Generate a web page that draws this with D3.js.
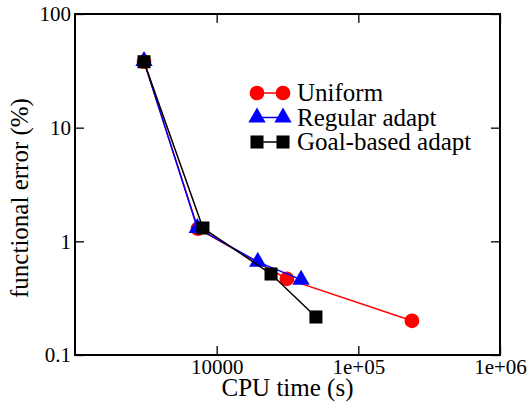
<!DOCTYPE html>
<html>
<head>
<meta charset="utf-8">
<script src="https://cdn.jsdelivr.net/npm/d3@7"></script>
<style>
  body { margin: 0; background: #fff; }
  svg text { font-family: "Liberation Serif", "Times New Roman", Times, "DejaVu Serif", serif !important; fill: #000; }
</style>
</head>
<body>
<div class="chart"></div>
<script>
var width = 530, height = 405;
var padLeft = 75, padRight = 500, padTop = 14, padBottom = 355;

// data
var seriesNames = ["Uniform", "Regular adapt", "Goal-based adapt"];
var uniformTime = [3070, 7380, 31300, 239000];
var uniformError = [38, 1.29, 0.467, 0.2];
var regularTime = [3070, 7300, 19500, 39400];
var regularError = [38.5, 1.31, 0.66, 0.46];
var goalTime = [3070, 8000, 24200, 50200];
var goalError = [38, 1.31, 0.516, 0.216];
var xTicks = [10000, 100000, 1000000];
var xTickLabels = ["10000", "1e+05", "1e+06"];
var yTicks = [0.1, 1, 10, 100];
var yTickLabels = ["0.1", "1", "10", "100"];

var colors = ["#ff0000", "#0000ff", "#000000"];
var symbols = [d3.symbolCircle, d3.symbolTriangle, d3.symbolSquare];
var symSizes = [170, 130, 170];
var serif = "'Liberation Serif', 'Times New Roman', serif";

var series = [
  { name: seriesNames[0], time: uniformTime, err: uniformError },
  { name: seriesNames[1], time: regularTime, err: regularError },
  { name: seriesNames[2], time: goalTime, err: goalError }
];

var svg = d3.select(".chart").append("svg")
  .attr("width", width)
  .attr("height", height);

var xScale = d3.scaleLog().domain([1000, 1000000]).range([padLeft, padRight]);
var yScale = d3.scaleLog().domain([0.1, 100]).range([padBottom, padTop]);

// minor tick values
var xMinor = [], yMinor = [];
[1000, 10000, 100000].forEach(function(d) {
  for (var k = 2; k < 10; k++) xMinor.push(d * k);
});
[0.1, 1, 10].forEach(function(d) {
  for (var k = 2; k < 10; k++) yMinor.push(d * k);
});

var fmt = function(list, labels) {
  return function(d) { var i = list.indexOf(d); return i < 0 ? "" : labels[i]; };
};

// bottom axis
var gx = svg.append("g").attr("transform", "translate(0," + padBottom + ")");
gx.call(d3.axisTop(xScale).tickValues(xMinor).tickSize(5).tickFormat(""));
gx.call(d3.axisTop(xScale).tickValues(xTicks).tickSize(9).tickFormat(""));
var gx2 = svg.append("g").attr("transform", "translate(0," + padBottom + ")")
  .call(d3.axisBottom(xScale).tickValues(xTicks).tickSize(0).tickPadding(4)
    .tickFormat(fmt(xTicks, xTickLabels)));
gx2.attr("font-family", serif).attr("font-size", 21);

// top axis
var gxt = svg.append("g").attr("transform", "translate(0," + padTop + ")");
gxt.call(d3.axisBottom(xScale).tickValues(xMinor).tickSize(5).tickFormat(""));
gxt.call(d3.axisBottom(xScale).tickValues(xTicks).tickSize(9).tickFormat(""));

// left axis
var gy = svg.append("g").attr("transform", "translate(" + padLeft + ",0)");
gy.call(d3.axisRight(yScale).tickValues(yMinor).tickSize(5).tickFormat(""));
gy.call(d3.axisRight(yScale).tickValues(yTicks).tickSize(9).tickFormat(""));
var gy2 = svg.append("g").attr("transform", "translate(" + padLeft + ",0)")
  .call(d3.axisLeft(yScale).tickValues(yTicks).tickSize(0).tickPadding(4)
    .tickFormat(fmt(yTicks, yTickLabels)));
gy2.attr("font-family", serif).attr("font-size", 21);

// right axis
var gyr = svg.append("g").attr("transform", "translate(" + padRight + ",0)");
gyr.call(d3.axisLeft(yScale).tickValues(yMinor).tickSize(5).tickFormat(""));
gyr.call(d3.axisLeft(yScale).tickValues(yTicks).tickSize(9).tickFormat(""));

svg.selectAll(".domain").remove();
svg.selectAll(".tick line").attr("stroke", "#000").attr("stroke-width", 1.3);

// frame
svg.append("rect")
  .attr("x", padLeft).attr("y", padTop)
  .attr("width", padRight - padLeft).attr("height", padBottom - padTop)
  .attr("fill", "none").attr("stroke", "#000").attr("stroke-width", 2);

// lines and markers
var line = d3.line()
  .x(function(d) { return xScale(d[0]); })
  .y(function(d) { return yScale(d[1]); });

series.forEach(function(s, i) {
  var pts = s.time.map(function(t, j) { return [t, s.err[j]]; });
  svg.append("path")
    .datum(pts)
    .attr("d", line)
    .attr("fill", "none")
    .attr("stroke", colors[i])
    .attr("stroke-width", 1.5);
  svg.selectAll(".mark" + i)
    .data(pts)
    .enter().append("path")
    .attr("class", "mark" + i)
    .attr("d", d3.symbol().type(symbols[i]).size(symSizes[i]))
    .attr("transform", function(d) {
      return "translate(" + xScale(d[0]) + "," + yScale(d[1]) + ")";
    })
    .attr("fill", colors[i]);
});

// legend
var legX1 = 257, legX2 = 283, legY = 93, legStep = 24.5;
series.forEach(function(s, i) {
  var y = legY + i * legStep;
  svg.append("line")
    .attr("x1", legX1).attr("x2", legX2)
    .attr("y1", y).attr("y2", y)
    .attr("stroke", colors[i]).attr("stroke-width", 1.5);
  [legX1, legX2].forEach(function(x) {
    svg.append("path")
      .attr("d", d3.symbol().type(symbols[i]).size(symSizes[i])())
      .attr("transform", "translate(" + x + "," + y + ")")
      .attr("fill", colors[i]);
  });
  svg.append("text")
    .attr("x", 297).attr("y", y + 8)
    .attr("font-family", serif)
    .style("font-size", "25px")
    .text(s.name);
});

// axis titles
svg.append("text")
  .attr("x", (padLeft + padRight) / 2).attr("y", 396)
  .attr("text-anchor", "middle")
  .attr("font-family", serif)
  .style("font-size", "25px")
  .text("CPU time (s)");

svg.append("text")
  .attr("transform", "translate(28,198) rotate(-90)")
  .attr("text-anchor", "middle")
  .attr("font-family", serif)
  .style("font-size", "25px")
  .text("functional error (%)");
</script>
</body>
</html>
